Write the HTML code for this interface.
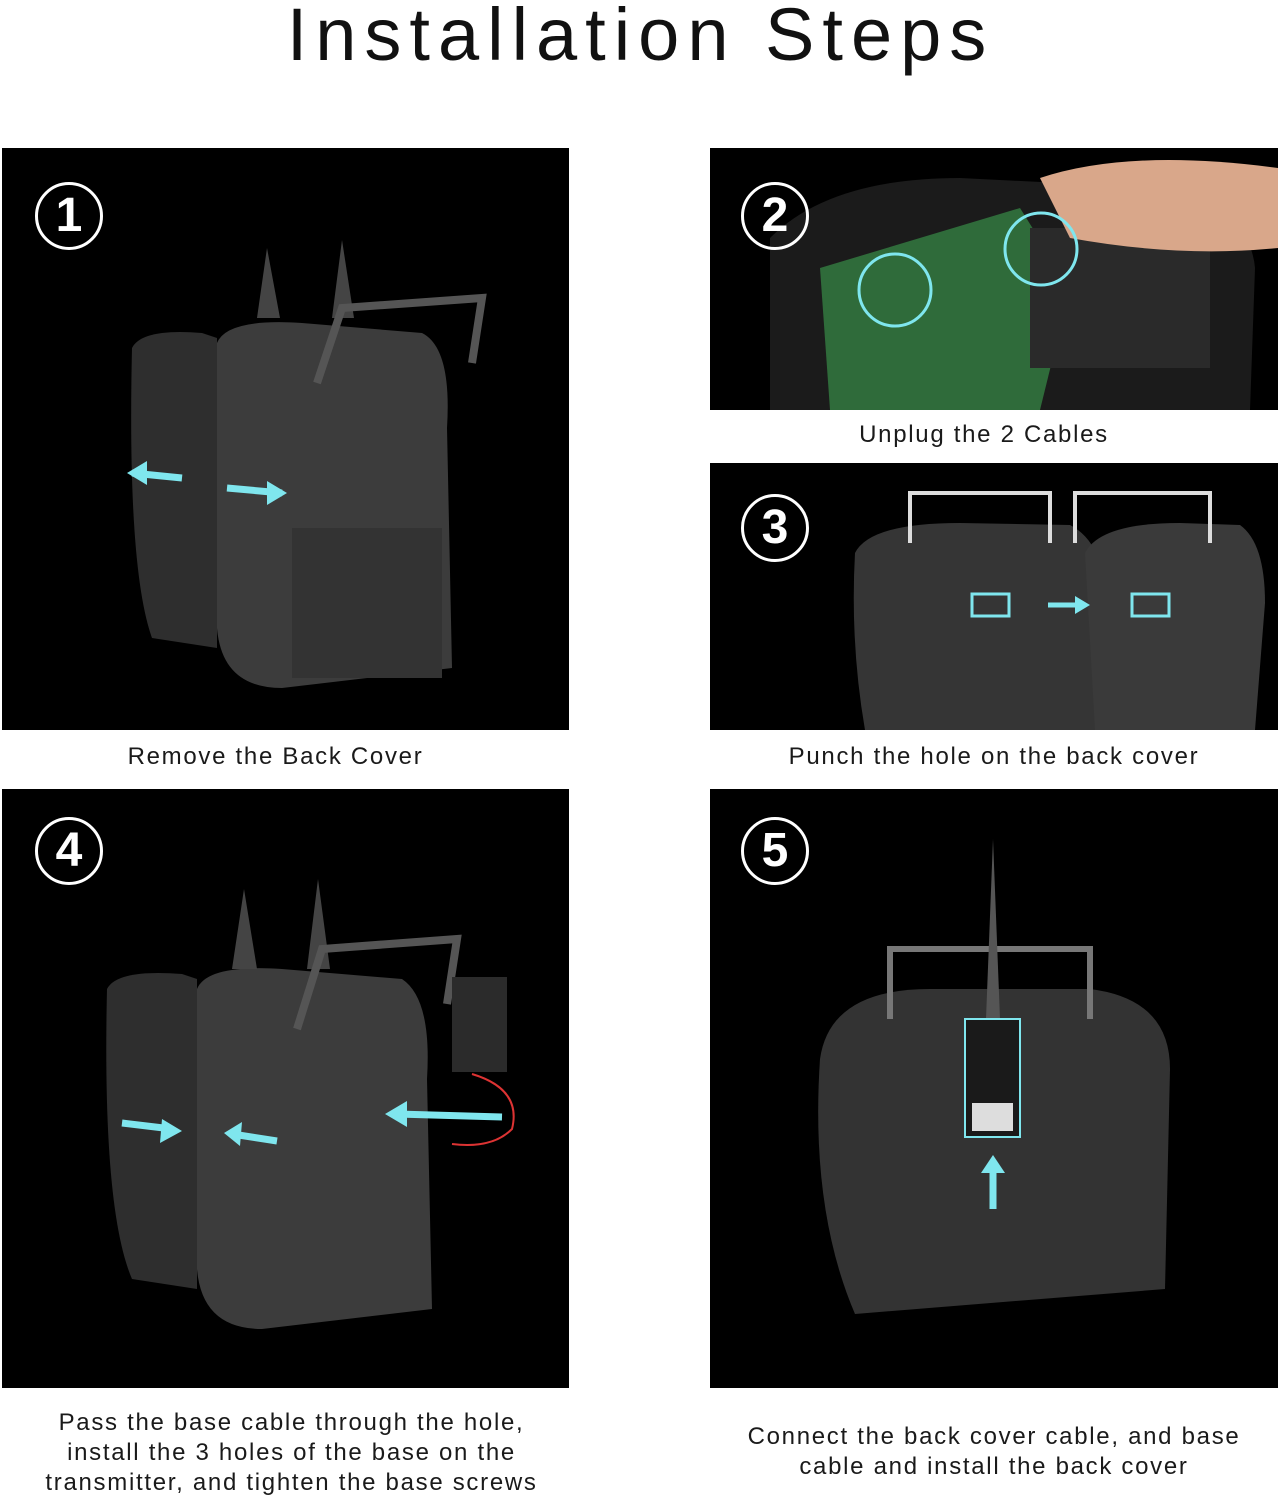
<!DOCTYPE html>
<html><head><meta charset="utf-8"><style>
html,body{margin:0;padding:0;background:#fff;}
body{width:1281px;height:1500px;position:relative;overflow:hidden;font-family:"Liberation Sans",sans-serif;}
.t{position:absolute;left:0;width:1281px;top:-8px;text-align:center;font-size:74px;letter-spacing:8px;color:#111;}
.p{position:absolute;background:#000;overflow:hidden;}
.c{position:absolute;text-align:center;font-size:24px;letter-spacing:1.7px;color:#1a1a1a;line-height:30px;}
.n{position:absolute;width:62px;height:62px;border:3px solid #fff;border-radius:50%;color:#fff;font-size:48px;font-weight:bold;text-align:center;line-height:62px;}
svg{position:absolute;left:0;top:0;}
</style></head><body>
<div class="t">Installation Steps</div>

<div class="p" style="left:2px;top:148px;width:567px;height:582px;">
<svg width="567" height="582">
<path d="M130 200 Q140 180 200 185 L215 190 L215 500 L150 490 Q125 420 130 200Z" fill="#2e2e2e"/>
<path d="M215 195 Q225 170 300 175 L420 185 Q450 200 445 280 L450 520 L280 540 Q220 540 215 480Z" fill="#3c3c3c"/>
<path d="M255 170 L265 100 L278 170Z M330 170 L340 92 L352 170Z" fill="#444"/>
<path d="M315 235 L340 160 L480 150 L470 215" stroke="#555" stroke-width="8" fill="none"/>
<rect x="290" y="380" width="150" height="150" fill="#333"/>
<path d="M180 330 L130 325 M225 340 L280 345" stroke="#7fe6ee" stroke-width="7"/>
<path d="M125 325 L145 313 L145 337Z M285 345 L265 333 L265 357Z" fill="#7fe6ee"/>
</svg>
<div class="n" style="left:33px;top:34px;">1</div></div>
<div class="c" style="left:-8px;width:567px;top:742px;">Remove the Back Cover</div>

<div class="p" style="left:710px;top:148px;width:568px;height:262px;">
<svg width="568" height="262">
<path d="M60 90 Q120 30 250 30 L450 40 Q540 60 545 120 L540 262 L60 262Z" fill="#1b1b1b"/>
<path d="M110 120 L310 60 L360 140 L330 262 L120 262Z" fill="#2f6b3a"/>
<rect x="320" y="80" width="180" height="140" fill="#2a2a2a"/>
<path d="M330 30 Q420 0 568 20 L568 100 Q470 110 360 90Z" fill="#d9a78a"/>
<circle cx="185" cy="142" r="36" stroke="#7fe6ee" stroke-width="3" fill="none"/>
<circle cx="331" cy="101" r="36" stroke="#7fe6ee" stroke-width="3" fill="none"/>
</svg>
<div class="n" style="left:31px;top:34px;">2</div></div>
<div class="c" style="left:700px;width:568px;top:420px;">Unplug the 2 Cables</div>

<div class="p" style="left:710px;top:463px;width:568px;height:267px;">
<svg width="568" height="267">
<path d="M145 90 Q160 60 250 60 L360 62 Q395 80 395 140 L385 267 L155 267 Q140 180 145 90Z" fill="#353535"/>
<path d="M375 90 Q390 60 470 60 L530 62 Q555 80 555 140 L545 267 L385 267Z" fill="#3a3a3a"/>
<path d="M200 80 L200 30 L340 30 L340 80 M365 80 L365 30 L500 30 L500 80" stroke="#ddd" stroke-width="4" fill="none"/>
<rect x="262" y="131" width="37" height="22" stroke="#7fe6ee" stroke-width="3" fill="none"/>
<rect x="422" y="131" width="37" height="22" stroke="#7fe6ee" stroke-width="3" fill="none"/>
<path d="M338 142 L370 142" stroke="#7fe6ee" stroke-width="5"/><path d="M380 142 L365 133 L365 151Z" fill="#7fe6ee"/>
</svg>
<div class="n" style="left:31px;top:31px;">3</div></div>
<div class="c" style="left:710px;width:568px;top:742px;">Punch the hole on the back cover</div>

<div class="p" style="left:2px;top:789px;width:567px;height:599px;">
<svg width="567" height="599">
<path d="M105 200 Q115 180 180 185 L195 190 L195 500 L130 490 Q100 420 105 200Z" fill="#2e2e2e"/>
<path d="M195 200 Q205 175 280 180 L400 190 Q430 210 425 290 L430 520 L260 540 Q200 540 195 480Z" fill="#3c3c3c"/>
<path d="M230 180 L242 100 L255 180Z M305 180 L316 90 L328 180Z" fill="#444"/>
<path d="M295 240 L320 160 L455 150 L445 215" stroke="#555" stroke-width="8" fill="none"/>
<rect x="450" y="188" width="55" height="95" fill="#2b2b2b"/>
<path d="M470 285 Q520 300 510 340 Q490 360 450 355" stroke="#d33" stroke-width="2" fill="none"/>
<path d="M120 334 L170 340 M275 352 L230 345 M500 328 L395 325" stroke="#7fe6ee" stroke-width="7"/>
<path d="M180 342 L160 330 L158 354Z M222 344 L240 333 L238 357Z M383 325 L405 312 L405 338Z" fill="#7fe6ee"/>
</svg>
<div class="n" style="left:33px;top:28px;">4</div></div>
<div class="c" style="left:8px;width:567px;top:1408px;">Pass the base cable through the hole,<br>install the 3 holes of the base on the<br>transmitter, and tighten the base screws</div>

<div class="p" style="left:710px;top:789px;width:568px;height:599px;">
<svg width="568" height="599">
<path d="M110 270 Q120 200 220 200 L380 200 Q460 210 460 280 L455 500 L145 525 Q100 420 110 270Z" fill="#333"/>
<path d="M180 230 L180 160 L380 160 L380 230" stroke="#777" stroke-width="6" fill="none"/>
<path d="M276 230 L283 50 L290 230Z" fill="#555"/>
<rect x="255" y="230" width="55" height="118" fill="#1a1a1a" stroke="#7fe6ee" stroke-width="2"/>
<rect x="262" y="314" width="41" height="28" fill="#ddd"/>
<path d="M283 420 L283 378" stroke="#7fe6ee" stroke-width="7"/><path d="M283 366 L271 384 L295 384Z" fill="#7fe6ee"/>
</svg>
<div class="n" style="left:31px;top:28px;">5</div></div>
<div class="c" style="left:710px;width:568px;top:1422px;">Connect the back cover cable, and base<br>cable and install the back cover</div>
</body></html>
